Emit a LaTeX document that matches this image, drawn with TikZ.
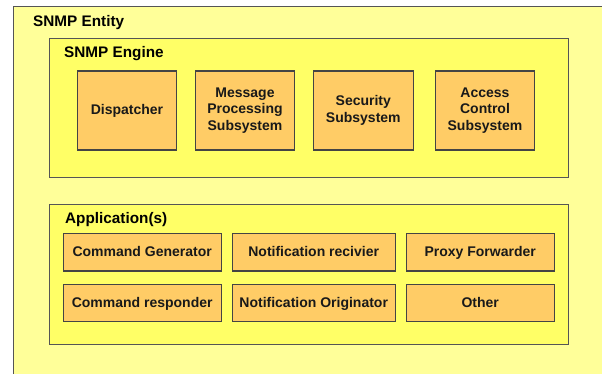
\documentclass[tikz,border=0pt]{standalone}
\usepackage{fontspec}
\setmainfont{Liberation Sans}
\definecolor{entityfill}{HTML}{FFFF99}
\definecolor{enginefill}{HTML}{FFFF66}
\definecolor{partfill}{HTML}{FFCC66}
\definecolor{edge}{HTML}{555555}
\definecolor{partedge}{HTML}{444444}
\tikzset{
  title/.style={anchor=base west, inner sep=0pt, font=\fontsize{15.3}{18}\selectfont\bfseries},
  group/.style={draw=edge, line width=1pt, fill=enginefill},
  part/.style={draw=partedge, line width=1.1pt, fill=partfill, inner sep=2pt,
    align=center, text=black!90, font=\fontsize{14}{16.7}\selectfont\bfseries},
  tallpart/.style={part, minimum width=99.5pt, minimum height=79pt},
  app/.style={part, minimum height=37.5pt, text height=10pt, text depth=2pt},
}
\begin{document}
\begin{tikzpicture}[x=1pt,y=-1pt]
\useasboundingbox (0,0) rectangle (602,374);
% entity frame, running off the right and bottom edges
\fill[entityfill] (13,7) rectangle (602,374);
\draw[edge, line width=1pt] (13,374) -- (13,7) -- (602,7);
\node[title] (entity) at (33,26.5) {SNMP Entity};

% engine group
\draw[group] (49.5,38.3) rectangle (568,177.7);
\node[title] (engine) at (64,57.3) {SNMP Engine};
\node[tallpart] (disp) at (127,110.5) {Dispatcher};
\node[tallpart] (mps)  at (245,110.5) {Message\\Processing\\Subsystem};
\node[tallpart] (sec)  at (363.3,110.5) {Security\\Subsystem};
\node[tallpart] (acs)  at (485,110.5) {Access\\Control\\Subsystem};

% application group
\draw[group] (49.5,204.3) rectangle (568,344.3);
\node[title] (apps) at (65,223.3) {Application(s)};
\node[app, minimum width=157.7pt] (cmdgen)  at (142.2,252.2) {Command Generator};
\node[app, minimum width=162.7pt] (notrcv)  at (313.7,252.2) {Notification recivier};
\node[app, minimum width=148.3pt] (proxy)   at (480.2,252.2) {Proxy Forwarder};
\node[app, minimum width=157.7pt] (cmdresp) at (142.2,303) {Command responder};
\node[app, minimum width=162.7pt] (notorig) at (313.7,303) {Notification Originator};
\node[app, minimum width=148.3pt] (other)   at (480.2,303) {Other};
\end{tikzpicture}
\end{document}
